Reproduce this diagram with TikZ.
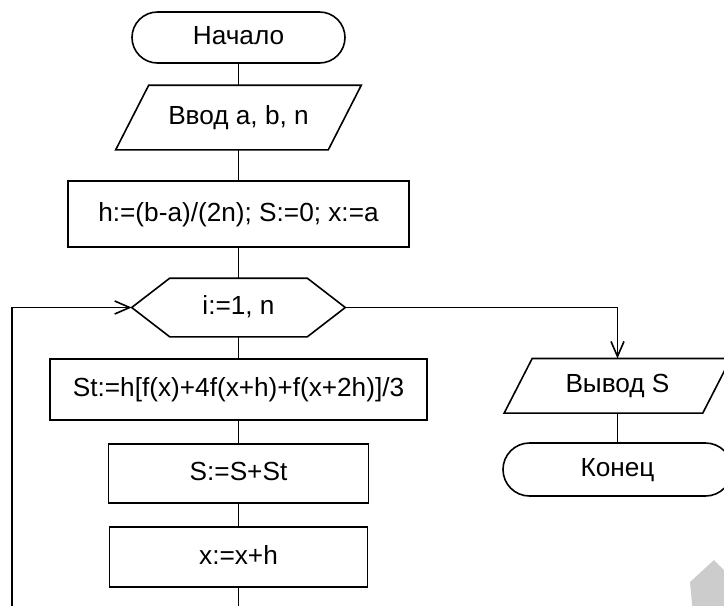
\documentclass[tikz,border=0pt]{standalone}
\usepackage{fontspec}
\setmainfont{Liberation Sans}
\usetikzlibrary{arrows.meta,shapes.misc}
\begin{document}
\begin{tikzpicture}[x=1pt,y=-1pt,
  line width=1.6pt,
  base/.style={inner sep=0pt, font=\fontsize{26.2}{30}\selectfont, text height=18pt, text depth=4pt},
  proc/.style={base, draw, rectangle},
  term/.style={base, draw, rounded rectangle},
  plain/.style={base, rectangle},
  arr/.style={-{Straight Barb[length=15pt,width=13pt]}}
]
\useasboundingbox (0,0) rectangle (724,606);
\clip (0,0) rectangle (724,606);
\fill[gray!40] (714,560) -- (738,584) -- (734,625) -- (694,625) -- (690,582) -- cycle;

\node[term, minimum width=213pt, minimum height=51pt] (start) at (238.5,37.5) {Начало};
\node[plain, minimum width=244pt, minimum height=63pt] (in) at (238.5,117.5) {Ввод a, b, n};
\draw ([xshift=33pt]in.north west) -- (in.north east) -- ([xshift=-33pt]in.south east) -- (in.south west) -- cycle;
\node[proc, minimum width=341pt, minimum height=66pt] (init) at (238.5,214) {h:=(b-a)/(2n); S:=0; x:=a};
\node[plain, minimum width=212pt, minimum height=57pt] (loop) at (238.5,307.5) {i:=1, n};
\draw (loop.west) -- ([xshift=38pt]loop.north west) -- ([xshift=-38pt]loop.north east) -- (loop.east)
      -- ([xshift=-38pt]loop.south east) -- ([xshift=38pt]loop.south west) -- cycle;
\node[proc, minimum width=377pt, minimum height=61pt] (st) at (238.5,389.5) {St:=h[f(x)+4f(x+h)+f(x+2h)]/3};
\node[proc, minimum width=260pt, minimum height=59pt] (sum) at (238.5,473.5) {S:=S+St};
\node[proc, minimum width=258pt, minimum height=60pt] (xs) at (238.5,557) {x:=x+h};

\node[plain, minimum width=225pt, minimum height=53pt] (out) at (617.5,385.75) {Вывод S};
\draw ([xshift=28pt]out.north west) -- (out.north east) -- ([xshift=-28pt]out.south east) -- (out.south west) -- cycle;
\node[term, minimum width=229pt, minimum height=53pt] (end) at (617.5,469.5) {Конец};

\coordinate (lb) at (12,307.5);
\draw (start.south) -- (in.north);
\draw (in.south) -- (init.north);
\draw (init.south) -- (loop.north);
\draw (loop.south) -- (st.north);
\draw (st.south) -- (sum.north);
\draw (sum.south) -- (xs.north);
\draw[arr] (xs.south) -- ++(0,40) -| (lb) -- (loop.west);
\draw[arr] (loop.east) -| (out.north);
\draw (out.south) -- (end.north);
\end{tikzpicture}
\end{document}
